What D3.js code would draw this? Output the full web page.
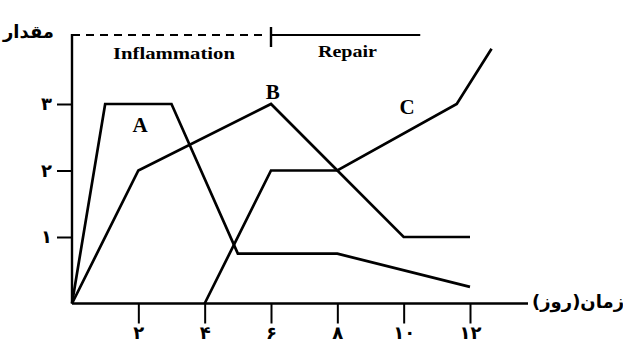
<!DOCTYPE html>
<meta charset="utf-8">
<head>
<style>
body { margin: 0; background: #fff; }
.curve { fill: none; stroke: #000; stroke-width: 2.7px; stroke-linejoin: miter; }
.axis-line { stroke: #000; stroke-width: 2.4px; }
.tick line { stroke: #000; stroke-width: 2px; }
.tick text { font-family: "DejaVu Sans", sans-serif; font-weight: bold; font-size: 18px; fill: #000; }
.fa { font-family: "DejaVu Sans", sans-serif; font-weight: bold; }
.en { font-family: "Liberation Serif", serif; font-weight: bold; }
</style>
</head>
<body>
<svg></svg>
<script src="https://d3js.org/d3.v7.min.js"></script>
<script>
// days / amount for the three curves
var curveNames = ["A", "B", "C"];
var daysA = [0, 1, 3, 5, 8, 12];
var valsA = [0, 3, 3, 0.75, 0.75, 0.25];
var daysB = [0, 2, 6, 10, 12];
var valsB = [0, 2, 3, 1, 1];
var daysC = [4, 6, 8, 11.6, 12.65];
var valsC = [0, 2, 2, 3, 3.83];

// where each curve's letter sits (day, amount)
var labelDays = [2.05, 6.05, 10.1];
var labelVals = [2.7, 3.2, 2.97];

var xTicks = [2, 4, 6, 8, 10, 12];
var yTicks = [1, 2, 3];
var phaseNames = ["Inflammation", "Repair"];
var phaseSplit = 6;
var phaseEnd = 10.5;
var yTitle = "مقدار";
var xTitle = "زمان(روز)";

var width = 623, height = 349;
var svg = d3.select('svg').attr('width', width).attr('height', height);

var x = d3.scaleLinear().domain([0, 12]).range([72, 470]);
var y = d3.scaleLinear().domain([0, 3]).range([303.5, 104]);

var faDigits = function (n) {
  return String(n).replace(/\d/g, function (c) { return "۰۱۲۳۴۵۶۷۸۹"[+c]; });
};

// axes (ticks via d3, long lines by hand)
var gx = svg.append('g')
  .attr('transform', 'translate(0,' + y(0) + ')')
  .call(d3.axisBottom(x).tickValues(xTicks).tickSize(20).tickPadding(3).tickFormat(faDigits));
gx.select('.domain').remove();

var gy = svg.append('g')
  .attr('transform', 'translate(' + x(0) + ',0)')
  .call(d3.axisLeft(y).tickValues(yTicks).tickSize(15).tickPadding(5).tickFormat(faDigits));
gy.select('.domain').remove();

var topY = 35;
svg.append('line').attr('class', 'axis-line')
  .attr('x1', x(0)).attr('x2', 528).attr('y1', y(0)).attr('y2', y(0));
svg.append('line').attr('class', 'axis-line')
  .attr('x1', x(0)).attr('x2', x(0)).attr('y1', topY - 1).attr('y2', y(0));

// phase bar on top
svg.append('line').attr('class', 'axis-line')
  .attr('x1', x(0)).attr('x2', x(phaseSplit) - 4).attr('y1', topY).attr('y2', topY)
  .style('stroke-dasharray', '8,6').style('stroke-width', '2px');
svg.append('line').attr('class', 'axis-line')
  .attr('x1', x(phaseSplit)).attr('x2', x(phaseEnd)).attr('y1', topY).attr('y2', topY)
  .style('stroke-width', '2px');
svg.append('line').attr('class', 'axis-line')
  .attr('x1', x(phaseSplit)).attr('x2', x(phaseSplit)).attr('y1', topY - 8).attr('y2', topY + 12)
  .style('stroke-width', '2.4px');

svg.append('text').attr('class', 'en')
  .attr('x', 113).attr('y', 59).attr('font-size', 16)
  .attr('textLength', 122).attr('lengthAdjust', 'spacingAndGlyphs')
  .text(phaseNames[0]);
svg.append('text').attr('class', 'en')
  .attr('x', 318).attr('y', 57).attr('font-size', 16)
  .attr('textLength', 59).attr('lengthAdjust', 'spacingAndGlyphs')
  .text(phaseNames[1]);

svg.append('text').attr('class', 'fa')
  .attr('x', 54).attr('y', 38).attr('text-anchor', 'end')
  .attr('font-size', 18).text(yTitle);
svg.append('text').attr('class', 'fa')
  .attr('x', 532).attr('y', 308).attr('text-anchor', 'start')
  .attr('font-size', 18).text(xTitle);

// curves
var line = d3.line().x(function (d) { return x(d[0]); }).y(function (d) { return y(d[1]); });
var series = [d3.zip(daysA, valsA), d3.zip(daysB, valsB), d3.zip(daysC, valsC)];

svg.append('g').selectAll('path')
  .data(series)
  .enter().append('path')
  .attr('class', 'curve')
  .attr('d', line);

svg.append('g').selectAll('text')
  .data(curveNames)
  .enter().append('text')
  .attr('class', 'en')
  .attr('font-size', 21)
  .attr('text-anchor', 'middle')
  .attr('x', function (d, i) { return x(labelDays[i]); })
  .attr('y', function (d, i) { return y(labelVals[i]) + 8; })
  .text(function (d) { return d; });
</script>
</body>
</html>
